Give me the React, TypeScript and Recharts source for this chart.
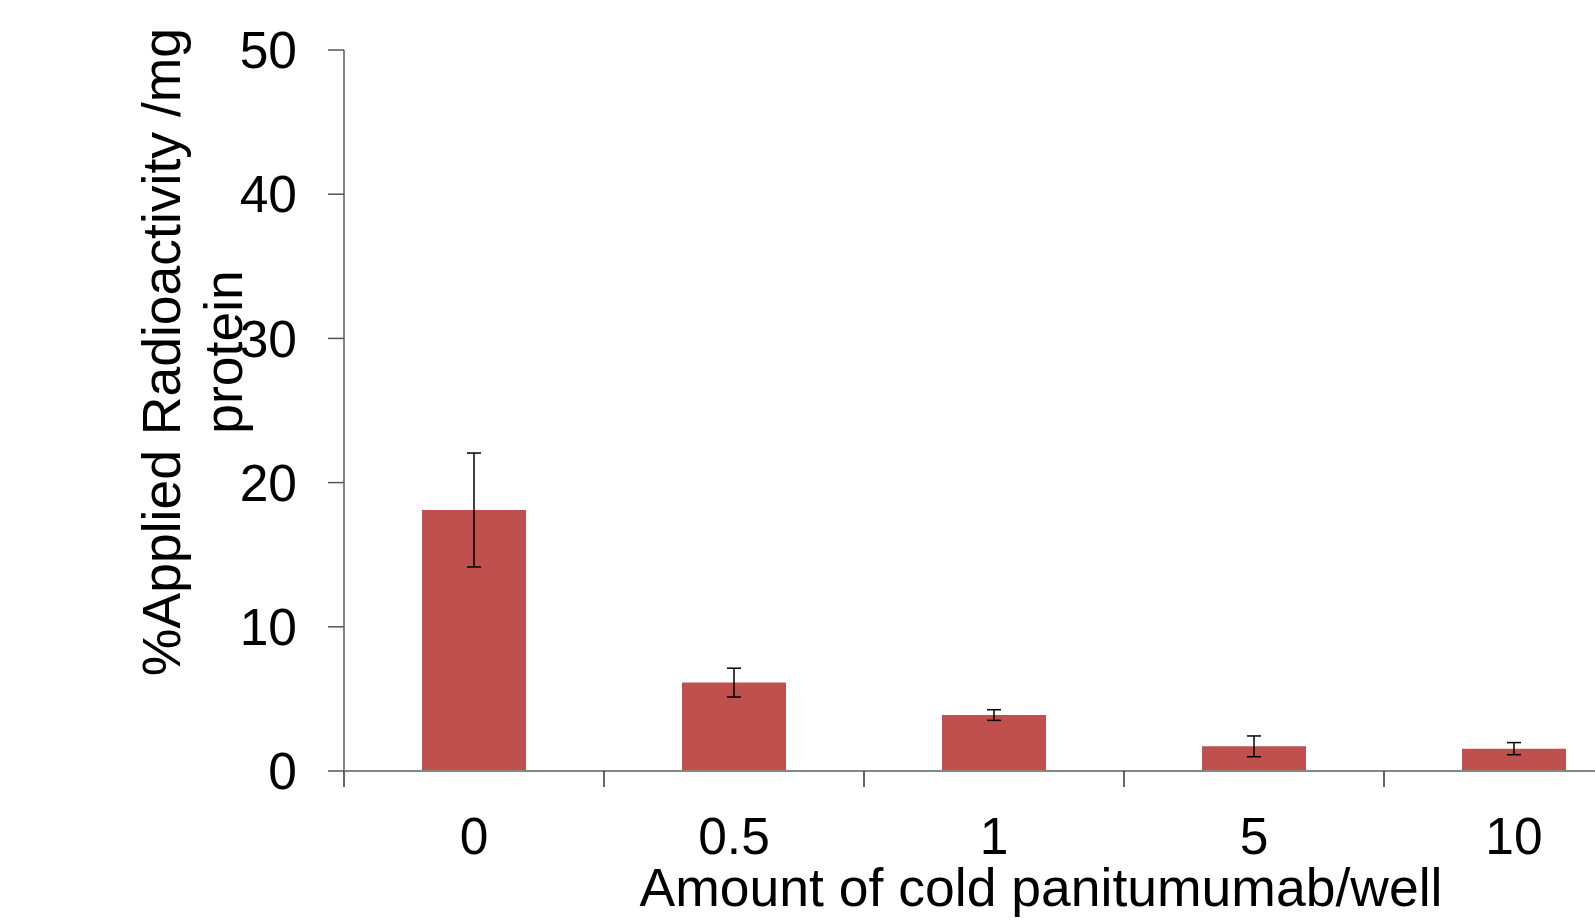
import React from "react";
import { BarChart, Bar, XAxis, YAxis, ErrorBar } from "recharts";

// amount of cold panitumumab per well
const categories = ["0", "0.5", "1", "5", "10"];
// % applied radioactivity / mg protein
const uptake = [18.1, 6.13, 3.88, 1.71, 1.55];
const uptakeSd = [3.95, 1.0, 0.37, 0.72, 0.42];
const yTicks = [0, 10, 20, 30, 40, 50];

const data = categories.map((amount, i) => ({
  amount,
  value: uptake[i],
  sd: uptakeSd[i],
}));

const FONT = "'Liberation Sans', Arial, sans-serif";

function YLabel() {
  return (
    <text
      transform="translate(180, 352) rotate(-90)"
      textAnchor="middle"
      fontFamily={FONT}
      fontSize={53.5}
      fill="#000"
    >
      <tspan x={0} y={0}>
        %Applied Radioactivity /mg
      </tspan>
      <tspan x={0} y={62}>
        protein
      </tspan>
    </text>
  );
}

// category label plus a tick mark on the left boundary of each band (Excel style)
function CategoryTick(props: any) {
  const { x, y, payload, width, visibleTicksCount } = props;
  const step = width / visibleTicksCount;
  const left = x - step / 2;
  const last = payload.index === visibleTicksCount - 1;
  return (
    <g>
      <line x1={left} y1={y} x2={left} y2={y + 16} stroke="#333" strokeWidth={1.5} />
      {last && (
        <line
          x1={left + step}
          y1={y}
          x2={left + step}
          y2={y + 16}
          stroke="#333"
          strokeWidth={1.5}
        />
      )}
      <text
        x={x}
        y={y + 46}
        dy="0.71em"
        textAnchor="middle"
        fontFamily={FONT}
        fontSize={51.5}
        fill="#000"
      >
        {payload.value}
      </text>
    </g>
  );
}

export default function App() {
  return (
    <div
      style={{
        position: "absolute",
        left: 0,
        top: 0,
        width: 1595,
        height: 921,
        overflow: "hidden",
        background: "#fff",
      }}
    >
      <BarChart
        width={1644}
        height={921}
        data={data}
        margin={{ top: 50, right: 0, bottom: 120, left: 0 }}
        barCategoryGap="30%"
      >
        <XAxis
          dataKey="amount"
          height={30}
          tickLine={false}
          tickSize={0}
          tickMargin={0}
          interval={0}
          axisLine={{ stroke: "#858585", strokeWidth: 2 }}
          tick={<CategoryTick />}
          label={{
            value: "Amount of cold panitumumab/well",
            content: () => (
              <text
                x={1041}
                y={906}
                textAnchor="middle"
                fontFamily={FONT}
                fontSize={53.5}
                fill="#000"
              >
                Amount of cold panitumumab/well
              </text>
            ),
          }}
        />
        <YAxis
          width={344}
          domain={[0, 50]}
          ticks={yTicks}
          interval={0}
          tickSize={16}
          tickMargin={31}
          axisLine={{ stroke: "#858585", strokeWidth: 2 }}
          tickLine={{ stroke: "#555", strokeWidth: 1.5 }}
          tick={{ fontSize: 51.5, fill: "#000", fontFamily: FONT }}
          label={{ value: "y", content: () => <YLabel /> }}
        />
        <Bar dataKey="value" fill="#C0504D" isAnimationActive={false}>
          <ErrorBar
            dataKey="sd"
            width={7}
            stroke="#000"
            strokeWidth={1.5}
            direction="y"
          />
        </Bar>
      </BarChart>
    </div>
  );
}
